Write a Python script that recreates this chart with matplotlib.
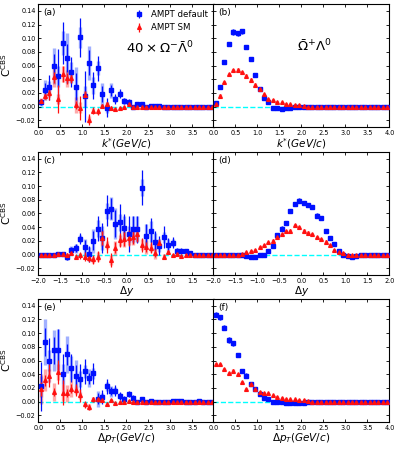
import numpy as np
import matplotlib.pyplot as plt

# bin centres
kstar = np.arange(40) * 0.1 + 0.05
dy = np.arange(40) * 0.1 - 1.95
dpt = np.arange(40) * 0.1 + 0.05

# (a) 40 x Omega- anti-Lambda0 vs k*
a_def = [0.006, 0.024, 0.028, 0.059, 0.044, 0.093, 0.071, 0.050, 0.029, 0.101,
         0.015, 0.064, 0.031, 0.056, 0.018, -0.002, 0.024, 0.011, 0.019, 0.008,
         0.007, -0.001, 0.004, 0.003, -0.001, 0.001, 0.001, 0.001, 0.000, 0.000,
         0.000, 0.000, 0.000, 0.000, 0.000, 0.000, 0.000, 0.000, 0.000, 0.000]
a_def_stat = [0.004, 0.010, 0.018, 0.018, 0.040, 0.031, 0.020, 0.022, 0.020, 0.029,
              0.037, 0.018, 0.020, 0.018, 0.012, 0.014, 0.008, 0.008, 0.007, 0.004,
              0.004, 0.003, 0.003, 0.002, 0.002, 0.001, 0.001, 0.001, 0.001, 0.001,
              0.001, 0.001, 0.001, 0.001, 0.001, 0.001, 0.001, 0.001, 0.001, 0.001]
a_def_sys = [0.005, 0.015, 0.010, 0.026, 0.015, 0.017, 0.037, 0.015, 0.029, 0.015,
             0.015, 0.025, 0.012, 0.010, 0.017, 0.008, 0.011, 0.005, 0.004, 0.004,
             0.003, 0.002, 0.002, 0.002, 0.001, 0.001, 0.001, 0.001, 0.001, 0.001,
             0.001, 0.001, 0.001, 0.001, 0.001, 0.001, 0.001, 0.001, 0.001, 0.001]
a_sm = [0.008, 0.015, 0.020, 0.043, 0.011, 0.048, 0.041, 0.042, 0.002, -0.002,
        0.017, -0.019, -0.006, -0.007, 0.001, 0.003, -0.002, -0.004, -0.002, -0.001,
        0.003, 0.000, 0.000, -0.001, 0.000, 0.000, 0.000, 0.000, 0.000, 0.000,
        0.000, 0.000, 0.000, 0.000, 0.000, 0.000, 0.000, 0.000, 0.000, 0.000]
a_sm_stat = [0.003, 0.004, 0.010, 0.008, 0.020, 0.012, 0.008, 0.008, 0.006, 0.017,
             0.006, 0.008, 0.005, 0.005, 0.003, 0.004, 0.003, 0.002, 0.002, 0.002,
             0.002, 0.001, 0.001, 0.001, 0.001, 0.001, 0.001, 0.001, 0.001, 0.001,
             0.001, 0.001, 0.001, 0.001, 0.001, 0.001, 0.001, 0.001, 0.001, 0.001]
a_sm_sys = [0.004, 0.006, 0.006, 0.015, 0.008, 0.012, 0.012, 0.006, 0.012, 0.008,
            0.005, 0.005, 0.004, 0.004, 0.003, 0.003, 0.002, 0.002, 0.002, 0.001,
            0.001, 0.001, 0.001, 0.001, 0.001, 0.001, 0.001, 0.001, 0.001, 0.001,
            0.001, 0.001, 0.001, 0.001, 0.001, 0.001, 0.001, 0.001, 0.001, 0.001]

# (b) anti-Omega+ Lambda0 vs k*
b_def = [0.005, 0.029, 0.065, 0.091, 0.109, 0.107, 0.110, 0.087, 0.069, 0.046,
         0.026, 0.012, 0.006, -0.002, -0.002, -0.003, -0.002, -0.002, -0.001, -0.001,
         -0.001, 0.000, 0.000, 0.000, 0.000, 0.000, 0.000, 0.000, 0.000, 0.000,
         0.000, 0.000, 0.000, 0.000, 0.000, 0.000, 0.000, 0.000, 0.000, 0.000]
b_def_err = [0.002, 0.002, 0.003, 0.003, 0.004, 0.004, 0.004, 0.003, 0.003, 0.003,
             0.002, 0.002, 0.002, 0.001, 0.001, 0.001, 0.001, 0.001, 0.001, 0.001,
             0.001, 0.001, 0.001, 0.001, 0.001, 0.001, 0.001, 0.001, 0.001, 0.001,
             0.001, 0.001, 0.001, 0.001, 0.001, 0.001, 0.001, 0.001, 0.001, 0.001]
b_sm = [0.004, 0.016, 0.036, 0.047, 0.053, 0.054, 0.050, 0.045, 0.039, 0.032,
        0.026, 0.018, 0.011, 0.010, 0.007, 0.006, 0.004, 0.003, 0.002, 0.002,
        0.001, 0.000, 0.000, 0.000, 0.000, 0.000, 0.000, 0.000, 0.000, 0.000,
        0.000, 0.000, 0.000, 0.000, 0.000, 0.000, 0.000, 0.000, 0.000, 0.000]
b_sm_err = [0.001, 0.002, 0.002, 0.002, 0.002, 0.002, 0.002, 0.002, 0.002, 0.002,
            0.001, 0.001, 0.001, 0.001, 0.001, 0.001, 0.001, 0.001, 0.001, 0.001,
            0.001, 0.001, 0.001, 0.001, 0.001, 0.001, 0.001, 0.001, 0.001, 0.001,
            0.001, 0.001, 0.001, 0.001, 0.001, 0.001, 0.001, 0.001, 0.001, 0.001]

# (c) 40 x Omega- anti-Lambda0 vs delta y
c_def = [0.000, 0.000, 0.000, 0.000, 0.001, 0.001, -0.004, 0.006, 0.009, 0.023,
         0.011, 0.001, 0.020, 0.038, 0.024, 0.064, 0.067, 0.045, 0.047, 0.039,
         0.030, 0.037, 0.037, 0.098, 0.027, 0.034, 0.019, 0.013, 0.025, 0.014,
         0.017, 0.005, 0.005, 0.005, 0.002, 0.000, 0.000, 0.000, 0.000, 0.000]
c_def_stat = [0.001, 0.001, 0.001, 0.001, 0.002, 0.002, 0.004, 0.005, 0.006, 0.008,
              0.010, 0.012, 0.014, 0.018, 0.022, 0.023, 0.015, 0.020, 0.027, 0.020,
              0.026, 0.020, 0.020, 0.026, 0.018, 0.020, 0.016, 0.014, 0.016, 0.010,
              0.008, 0.005, 0.004, 0.003, 0.002, 0.001, 0.001, 0.001, 0.001, 0.001]
c_def_sys = [0.001, 0.001, 0.001, 0.001, 0.001, 0.002, 0.004, 0.006, 0.007, 0.005,
             0.012, 0.010, 0.018, 0.012, 0.017, 0.012, 0.017, 0.023, 0.012, 0.018,
             0.012, 0.019, 0.019, 0.012, 0.018, 0.015, 0.012, 0.010, 0.008, 0.008,
             0.005, 0.004, 0.003, 0.002, 0.001, 0.001, 0.001, 0.001, 0.001, 0.001]
c_sm = [0.000, 0.000, 0.000, 0.000, 0.001, 0.001, 0.000, 0.002, -0.003, -0.001,
        -0.003, -0.005, -0.007, -0.003, 0.024, 0.014, -0.008, 0.010, 0.021, 0.023,
        0.024, 0.026, 0.030, 0.014, 0.011, 0.010, 0.002, 0.017, -0.003, 0.004,
        -0.001, 0.001, -0.002, 0.000, 0.000, 0.000, 0.000, 0.000, 0.000, 0.000]
c_sm_stat = [0.001, 0.001, 0.001, 0.001, 0.001, 0.001, 0.002, 0.003, 0.004, 0.005,
             0.006, 0.006, 0.007, 0.008, 0.010, 0.012, 0.010, 0.008, 0.010, 0.010,
             0.012, 0.010, 0.012, 0.010, 0.008, 0.008, 0.006, 0.005, 0.004, 0.003,
             0.002, 0.002, 0.001, 0.001, 0.001, 0.001, 0.001, 0.001, 0.001, 0.001]
c_sm_sys = [0.001, 0.001, 0.001, 0.001, 0.001, 0.001, 0.001, 0.002, 0.003, 0.003,
            0.004, 0.004, 0.005, 0.006, 0.012, 0.006, 0.008, 0.010, 0.008, 0.012,
            0.010, 0.012, 0.010, 0.008, 0.010, 0.006, 0.008, 0.004, 0.004, 0.003,
            0.002, 0.002, 0.001, 0.001, 0.001, 0.001, 0.001, 0.001, 0.001, 0.001]

# (d) anti-Omega+ Lambda0 vs delta y
d_def = [0.000, 0.000, 0.000, 0.000, 0.000, 0.000, -0.001, -0.002, -0.004, -0.004,
         0.000, 0.000, 0.005, 0.013, 0.028, 0.038, 0.046, 0.063, 0.074, 0.079,
         0.076, 0.073, 0.070, 0.057, 0.053, 0.035, 0.024, 0.015, 0.005, -0.001,
         -0.002, -0.004, -0.002, -0.001, 0.000, 0.000, 0.000, 0.000, 0.000, 0.000]
d_def_err = [0.001, 0.001, 0.001, 0.001, 0.001, 0.001, 0.001, 0.001, 0.001, 0.001,
             0.001, 0.001, 0.002, 0.002, 0.002, 0.003, 0.003, 0.003, 0.003, 0.003,
             0.003, 0.003, 0.003, 0.003, 0.003, 0.002, 0.002, 0.002, 0.001, 0.001,
             0.001, 0.001, 0.001, 0.001, 0.001, 0.001, 0.001, 0.001, 0.001, 0.001]
d_sm = [0.000, 0.000, 0.000, 0.000, 0.000, 0.000, 0.001, 0.003, 0.005, 0.007,
        0.011, 0.014, 0.018, 0.020, 0.026, 0.030, 0.034, 0.035, 0.043, 0.040,
        0.035, 0.032, 0.030, 0.025, 0.022, 0.019, 0.014, 0.007, 0.004, 0.002,
        0.000, 0.000, 0.000, 0.000, 0.000, 0.000, 0.000, 0.000, 0.000, 0.000]
d_sm_err = [0.001, 0.001, 0.001, 0.001, 0.001, 0.001, 0.001, 0.001, 0.001, 0.001,
            0.001, 0.001, 0.001, 0.002, 0.002, 0.002, 0.002, 0.002, 0.002, 0.002,
            0.002, 0.002, 0.002, 0.002, 0.002, 0.002, 0.001, 0.001, 0.001, 0.001,
            0.001, 0.001, 0.001, 0.001, 0.001, 0.001, 0.001, 0.001, 0.001, 0.001]

# (e) 40 x Omega- anti-Lambda0 vs delta pT
e_def = [0.022, 0.087, 0.060, 0.075, 0.076, 0.040, 0.069, 0.049, 0.038, 0.033,
         0.044, 0.034, 0.041, 0.004, 0.007, 0.022, 0.015, 0.016, 0.008, 0.003,
         0.011, 0.005, -0.001, 0.004, 0.000, 0.001, 0.000, 0.000, 0.000, 0.000,
         0.001, 0.001, 0.001, 0.000, 0.000, 0.000, 0.001, 0.000, 0.000, 0.000]
e_def_stat = [0.036, 0.020, 0.033, 0.020, 0.030, 0.030, 0.015, 0.020, 0.015, 0.022,
              0.018, 0.008, 0.015, 0.008, 0.010, 0.011, 0.006, 0.008, 0.006, 0.005,
              0.005, 0.004, 0.003, 0.003, 0.002, 0.002, 0.001, 0.001, 0.001, 0.001,
              0.001, 0.001, 0.001, 0.001, 0.001, 0.001, 0.001, 0.001, 0.001, 0.001]
e_def_sys = [0.015, 0.033, 0.015, 0.030, 0.030, 0.015, 0.027, 0.018, 0.023, 0.012,
             0.010, 0.013, 0.008, 0.012, 0.006, 0.006, 0.008, 0.005, 0.004, 0.003,
             0.003, 0.002, 0.002, 0.002, 0.001, 0.001, 0.001, 0.001, 0.001, 0.001,
             0.001, 0.001, 0.001, 0.001, 0.001, 0.001, 0.001, 0.001, 0.001, 0.001]
e_sm = [0.018, 0.031, 0.038, 0.014, 0.043, 0.013, 0.012, 0.019, 0.017, 0.009,
        -0.004, -0.008, 0.003, 0.003, 0.002, -0.004, 0.002, -0.002, -0.001, -0.001,
        0.001, 0.000, -0.001, 0.000, 0.000, 0.000, 0.000, 0.000, 0.000, 0.000,
        0.000, 0.000, 0.000, 0.000, 0.000, 0.000, 0.000, 0.000, 0.000, 0.000]
e_sm_stat = [0.010, 0.008, 0.017, 0.006, 0.018, 0.018, 0.006, 0.006, 0.009, 0.009,
             0.005, 0.005, 0.004, 0.003, 0.003, 0.003, 0.002, 0.002, 0.002, 0.001,
             0.001, 0.001, 0.001, 0.001, 0.001, 0.001, 0.001, 0.001, 0.001, 0.001,
             0.001, 0.001, 0.001, 0.001, 0.001, 0.001, 0.001, 0.001, 0.001, 0.001]
e_sm_sys = [0.022, 0.016, 0.010, 0.013, 0.012, 0.012, 0.012, 0.012, 0.006, 0.005,
            0.004, 0.004, 0.003, 0.003, 0.002, 0.002, 0.002, 0.001, 0.001, 0.001,
            0.001, 0.001, 0.001, 0.001, 0.001, 0.001, 0.001, 0.001, 0.001, 0.001,
            0.001, 0.001, 0.001, 0.001, 0.001, 0.001, 0.001, 0.001, 0.001, 0.001]

# (f) anti-Omega+ Lambda0 vs delta pT
f_def = [0.127, 0.123, 0.108, 0.090, 0.085, 0.068, 0.045, 0.038, 0.026, 0.019,
         0.011, 0.005, 0.004, -0.001, -0.001, -0.001, -0.0015, -0.002, -0.002, -0.002,
         -0.0015, -0.001, 0.000, 0.000, 0.000, 0.000, 0.000, 0.000, 0.000, 0.000,
         0.000, 0.000, 0.000, 0.000, 0.000, 0.000, 0.000, 0.000, 0.000, 0.000]
f_def_err = [0.004, 0.004, 0.004, 0.004, 0.004, 0.003, 0.003, 0.003, 0.002, 0.002,
             0.002, 0.002, 0.001, 0.001, 0.001, 0.001, 0.001, 0.001, 0.001, 0.001,
             0.001, 0.001, 0.001, 0.001, 0.001, 0.001, 0.001, 0.001, 0.001, 0.001,
             0.001, 0.001, 0.001, 0.001, 0.001, 0.001, 0.001, 0.001, 0.001, 0.001]
f_sm = [0.055, 0.055, 0.047, 0.041, 0.045, 0.040, 0.028, 0.019, 0.026, 0.019,
        0.014, 0.013, 0.012, 0.009, 0.007, 0.005, 0.004, 0.003, 0.003, 0.002,
        0.002, 0.001, 0.000, 0.000, 0.000, 0.000, 0.000, 0.000, 0.000, 0.000,
        0.000, 0.000, 0.000, 0.000, 0.000, 0.000, 0.000, 0.000, 0.000, 0.000]
f_sm_err = [0.002, 0.002, 0.002, 0.002, 0.002, 0.002, 0.002, 0.001, 0.001, 0.001,
            0.001, 0.001, 0.001, 0.001, 0.001, 0.001, 0.001, 0.001, 0.001, 0.001,
            0.001, 0.001, 0.001, 0.001, 0.001, 0.001, 0.001, 0.001, 0.001, 0.001,
            0.001, 0.001, 0.001, 0.001, 0.001, 0.001, 0.001, 0.001, 0.001, 0.001]


def draw(ax, x, y, stat, sys, color, band, marker):
    # wide pale bar for systematics, thin line for statistics
    ax.errorbar(x, y, yerr=sys, fmt='none', ecolor=band, elinewidth=2.4,
                alpha=0.45, capsize=0, zorder=2)
    h = ax.errorbar(x, y, yerr=stat, fmt=marker, color=color, ms=2.7,
                    elinewidth=0.9, capsize=0, zorder=3)
    return h


fig = plt.figure(figsize=(3.99, 4.49), dpi=100)

lefts = [0.096, 0.5346]
width = 0.4411
height = 0.274
bottoms = [0.7171, 0.3875, 0.0601]

rows = [
    (kstar, [0, 4], r'$k^{*}(GeV/c)$',
     (a_def, a_def_stat, a_def_sys, a_sm, a_sm_stat, a_sm_sys),
     (b_def, b_def_err, b_def_err, b_sm, b_sm_err, b_sm_err)),
    (dy, [-2, 2], r'$\Delta y$',
     (c_def, c_def_stat, c_def_sys, c_sm, c_sm_stat, c_sm_sys),
     (d_def, d_def_err, d_def_err, d_sm, d_sm_err, d_sm_err)),
    (dpt, [0, 4], r'$\Delta p_{T}(GeV/c)$',
     (e_def, e_def_stat, e_def_sys, e_sm, e_sm_stat, e_sm_sys),
     (f_def, f_def_err, f_def_err, f_sm, f_sm_err, f_sm_err)),
]
labels = ['(a)', '(b)', '(c)', '(d)', '(e)', '(f)']

handles = None
for r, (x, xlim, xlabel, left_data, right_data) in enumerate(rows):
    for c, data in enumerate([left_data, right_data]):
        ax = fig.add_axes([lefts[c], bottoms[r], width, height])
        dv, ds, dsy, sv, ss, ssy = data
        ax.axhline(0, color='cyan', ls='--', lw=1.0, zorder=1.5)
        h1 = draw(ax, x, dv, ds, dsy, '#0010ff', '#3050ff', 's')
        h2 = draw(ax, x, sv, ss, ssy, '#ff1010', '#ff4040', '^')
        if handles is None:
            handles = [h1, h2]
        ax.set_xlim(xlim)
        ax.set_ylim(-0.03, 0.15)
        ax.set_xticks(np.arange(xlim[0], xlim[1] + 0.01, 0.5))
        ax.set_yticks(np.arange(-0.02, 0.141, 0.02))
        ax.tick_params(direction='in', top=True, right=True, length=2.5,
                       width=0.6, labelsize=4.7, pad=2)
        ax.set_xlabel(xlabel, fontsize=7.5, labelpad=0)
        if c == 0:
            ax.set_ylabel(r'$\mathrm{C}^{\mathrm{CBS}}$', fontsize=7.5, labelpad=2)
            ax.xaxis.get_major_ticks()[-1].label1.set_visible(False)
        else:
            ax.set_yticklabels([])
        ax.text(0.03, 0.97, labels[2 * r + c], transform=ax.transAxes,
                fontsize=6.5, va='top', ha='left')
        if r == 0 and c == 0:
            ax.legend(handles, ['AMPT default', 'AMPT SM'], loc='upper right',
                      frameon=False, fontsize=6.2, handlelength=1.0,
                      borderaxespad=0.3, labelspacing=0.5, handletextpad=0.9)
            ax.text(0.69, 0.64, r'$40\times\Omega^{-}\bar{\Lambda}^{0}$',
                    transform=ax.transAxes, fontsize=9.5, ha='center', va='center')
        if r == 0 and c == 1:
            ax.text(0.575, 0.65, r'$\bar{\Omega}^{+}\Lambda^{0}$',
                    transform=ax.transAxes, fontsize=9.5, ha='center', va='center')

plt.savefig('out.png', dpi=100)
